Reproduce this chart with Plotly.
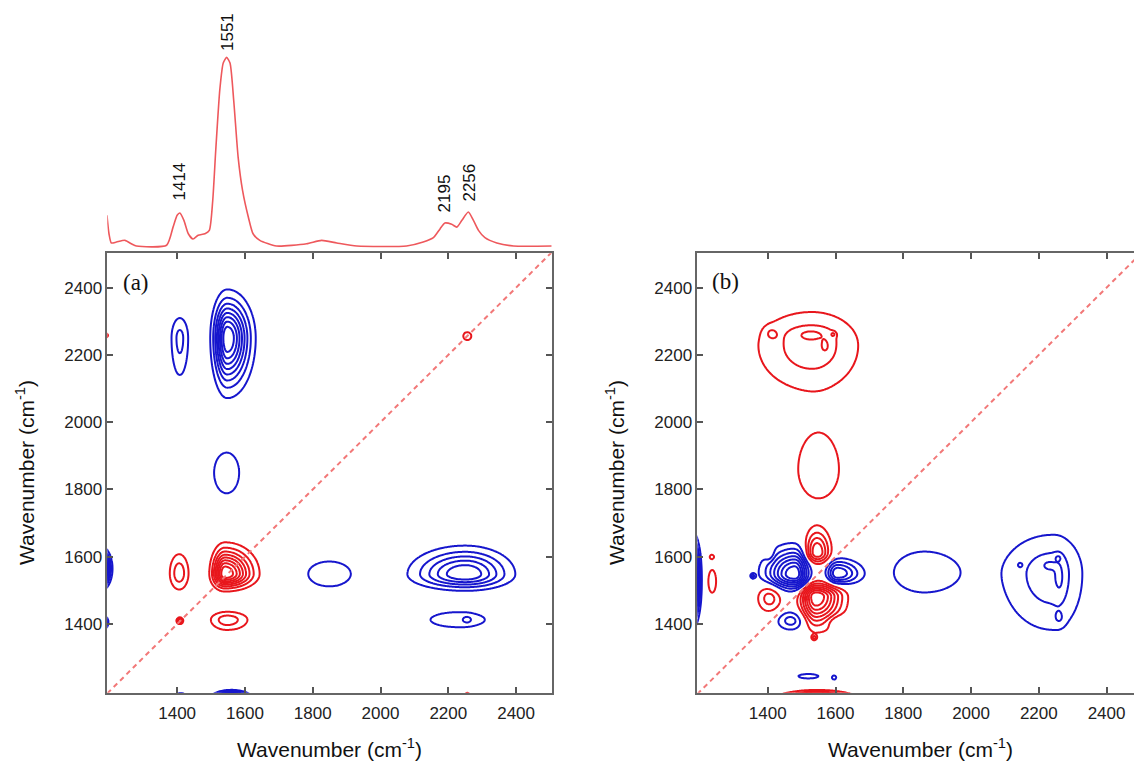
import numpy as np
import plotly.graph_objects as go

W, H = 1134, 761

# ---------------- top spectrum (panel a) ----------------
spec_wn = [1193, 1199, 1206, 1221, 1246, 1265, 1280, 1369, 1388, 1400, 1408, 1420, 1433, 1447,
           1462, 1482, 1495, 1505, 1514, 1526, 1536, 1546, 1556, 1567, 1580, 1593, 1610, 1624,
           1644, 1693, 1782, 1826, 1871, 1930, 2077, 2126, 2156, 2176, 2190, 2210, 2225, 2240,
           2259, 2274, 2289, 2308, 2343, 2392, 2505]
spec_abs = [0.163, 0.065, 0.016, 0.021, 0.030, 0.012, 0.000, 0.004, 0.100, 0.163, 0.175, 0.136,
            0.065, 0.037, 0.057, 0.065, 0.083, 0.240, 0.510, 0.830, 0.970, 1.000, 0.970, 0.770,
            0.470, 0.295, 0.154, 0.065, 0.030, 0.000, 0.012, 0.030, 0.016, 0.000, 0.000, 0.021,
            0.044, 0.092, 0.122, 0.115, 0.100, 0.136, 0.180, 0.136, 0.083, 0.044, 0.016, 0.000,
            0.000]

peak_labels = ["1414", "1551", "2195", "2256"]
peak_label_wn = [1408, 1547, 2188, 2262]
peak_label_val = [0.341, 1.134, 0.280, 0.338]

tick_vals = [1400, 1600, 1800, 2000, 2200, 2400]

# ---------------- (a) synchronous map peaks ----------------
a_cx  = [1541, 1406, 1548, 1408, 2256, 1190, 2256, 1548, 1408, 1546, 1849, 2250, 2230, 2256, 1175, 1180, 1410, 1560]
a_cy  = [1549, 1551, 1413, 1410, 2256, 2258, 1190, 2250, 2250, 1850, 1549, 1548, 1413, 1413, 1565, 1405, 1178, 1175]
a_amp = [9.0, 2.6, 2.6, 4.0, 1.5, 2.0, 2.0, -9.0, -2.3, -1.5, -1.5, -6.0, -1.6, -1.0, -20.0, -10.0, -10.0, -20.0]
a_sxl = [22, 20, 35, 6, 13, 5, 5, 24, 19, 41, 69, 90, 85, 10, 14, 8, 10, 27]
a_sxr = [49, 20, 43, 6, 13, 5, 5, 40, 19, 41, 70, 78, 80, 10, 14, 8, 10, 27]
a_syd = [25, 35, 22, 6, 13, 5, 5, 85, 85, 68, 41, 26, 23, 8, 27, 10, 8, 12]
a_syu = [45, 41, 17, 6, 13, 5, 5, 69, 46, 66, 41, 45, 23, 8, 27, 10, 8, 12]

# ---------------- (b) asynchronous map peaks ----------------
b_cx  = [1530, 1410, 1527, 1570, 1593, 1550,
         1480, 1605, 1545, 1542, 1405, 1405, 1470, 1606, 1356, 1537, 1235, 1236, 1178,
         1862, 2240, 2262, 2230, 2257, 2260, 2144, 1520, 1596, 1545]
b_cy  = [2228, 2264, 2262, 2226, 2261, 1860,
         1548, 1550, 1612, 1482, 1610, 1478, 1410, 1408, 1543, 1360, 1600, 1527, 1530,
         1553, 1549, 1536, 1576, 1596, 1418, 1576, 1245, 1241, 1165]
b_amp = [2.6, 1.0, 0.95, 0.85, 1.3, 1.9,
         -8.0, -5.0, 5.0, 8.0, 1.3, 2.5, -2.5, -1.3, -2.0, 2.0, 1.6, 1.4, -15.0,
         -1.9, -2.6, -0.8, -0.8, -1.3, -0.9, -0.8, -1.4, -1.8, 20.0]
b_sxl = [114, 13, 38, 10, 5, 53,
         53, 20, 23, 28, 10, 25, 30, 25, 5, 5, 5, 14, 12,
         79, 105, 12, 17, 5, 10, 5, 36, 5, 58]
b_sxr = [99, 13, 38, 10, 5, 53,
         25, 43, 25, 47, 10, 25, 30, 25, 5, 5, 5, 14, 12,
         88, 64, 12, 17, 5, 10, 5, 36, 5, 58]
b_syd = [95, 13, 14, 16, 5, 76,
         27, 21, 20, 53, 16, 30, 20, 14, 5, 5, 5, 41, 62,
         52, 120, 46, 12, 5, 14, 5, 8, 5, 16]
b_syu = [72, 13, 14, 16, 5, 92,
         46, 26, 43, 24, 16, 30, 20, 14, 5, 5, 5, 41, 62,
         55, 84, 46, 12, 5, 14, 5, 8, 5, 16]

# axis ranges (wavenumber)
a_xrange = [1194, 2505]
a_yrange = [1196, 2502]
b_xrange = [1192, 2481]
b_yrange = [1196, 2502]

RED = "rgb(232,22,28)"
BLUE = "rgb(22,22,205)"
SPEC = "rgb(238,88,92)"
DIAG = "rgb(242,120,120)"

grid = np.arange(1150, 2531, 3, dtype=float)
GX, GY = np.meshgrid(grid, grid)


def surface(cx, cy, amp, sxl, sxr, syd, syu):
    z = np.zeros_like(GX)
    for i in range(len(cx)):
        dx = GX - cx[i]
        dy = GY - cy[i]
        sx = np.where(dx < 0, sxl[i], sxr[i])
        sy = np.where(dy < 0, syd[i], syu[i])
        z += amp[i] * np.exp(-0.5 * ((dx / sx) ** 2 + (dy / sy) ** 2))
    return z.astype(np.float32)


za = surface(a_cx, a_cy, a_amp, a_sxl, a_sxr, a_syd, a_syu)
zb = surface(b_cx, b_cy, b_amp, b_sxl, b_sxr, b_syd, b_syu)

fig = go.Figure()


def add_map(z, xa, ya, rng):
    fig.add_trace(go.Contour(x=grid, y=grid, z=z, xaxis=xa, yaxis=ya,
                             contours=dict(start=1, end=40, size=1, coloring="none"),
                             line=dict(color=RED, width=2), showscale=False,
                             hoverinfo="skip"))
    fig.add_trace(go.Contour(x=grid, y=grid, z=z, xaxis=xa, yaxis=ya,
                             contours=dict(start=-40, end=-1, size=1, coloring="none"),
                             line=dict(color=BLUE, width=2), showscale=False,
                             hoverinfo="skip"))
    fig.add_trace(go.Scatter(x=[rng[0], 2505], y=[rng[0], 2505], xaxis=xa, yaxis=ya,
                             mode="lines", line=dict(color=DIAG, width=2, dash="5px,4px"),
                             hoverinfo="skip", showlegend=False))


add_map(za, "x", "y", a_xrange)
add_map(zb, "x2", "y2", b_xrange)

fig.add_trace(go.Scatter(x=spec_wn, y=spec_abs, xaxis="x3", yaxis="y3", mode="lines",
                         line=dict(color=SPEC, width=1.6, shape="spline", smoothing=0.6),
                         hoverinfo="skip", showlegend=False))


def px_x(p):
    return p / W


def px_y(p):
    return 1 - p / H


tickfont = dict(family="Liberation Sans, Arial, sans-serif", size=17, color="#222")
ax_common = dict(showgrid=False, zeroline=False, showline=True, linecolor="#666",
                 linewidth=1.5, ticks="inside", ticklen=6, tickwidth=1.5, tickcolor="#555",
                 tickvals=tick_vals, tickfont=tickfont)

dom_y = [px_y(692.7), px_y(253.3)]
fig.update_layout(
    width=W, height=H, margin=dict(l=0, r=0, t=0, b=0),
    paper_bgcolor="white", plot_bgcolor="white", showlegend=False,
    xaxis=dict(ax_common, domain=[px_x(107.3), px_x(551.7)], range=a_xrange, mirror="ticks",
               anchor="y", ticklabelstandoff=4),
    yaxis=dict(ax_common, domain=dom_y, range=a_yrange, mirror="ticks", anchor="x"),
    xaxis2=dict(ax_common, domain=[px_x(697.3), 1.0], range=b_xrange, mirror="ticks",
                anchor="y2", ticklabelstandoff=4),
    yaxis2=dict(ax_common, domain=dom_y, range=b_yrange, mirror=False, anchor="x2"),
    xaxis3=dict(domain=[px_x(107.3), px_x(551.7)], range=a_xrange, visible=False,
                anchor="y3"),
    yaxis3=dict(domain=[px_y(253.3), 1.0], range=[-0.0387, 1.304], visible=False,
                anchor="x3"),
)

ann = []
for t, xw, yv in zip(peak_labels, peak_label_wn, peak_label_val):
    ann.append(dict(text=t, x=xw, y=yv, xref="x3", yref="y3", showarrow=False,
                    textangle=-90, xanchor="center", yanchor="middle",
                    font=dict(family="Liberation Sans, Arial, sans-serif", size=17,
                              color="#111")))

title_font = dict(family="Liberation Sans, Arial, sans-serif", size=21, color="#111")
xt = "Wavenumber (cm<sup>-1</sup>)"
ann += [
    dict(text=xt, x=px_x(329.5), y=px_y(748), xref="paper", yref="paper", showarrow=False,
         xanchor="center", yanchor="middle", font=title_font),
    dict(text=xt, x=px_x(920), y=px_y(748), xref="paper", yref="paper", showarrow=False,
         xanchor="center", yanchor="middle", font=title_font),
    dict(text=xt, x=px_x(25), y=px_y(473), xref="paper", yref="paper", showarrow=False,
         textangle=-90, xanchor="center", yanchor="middle", font=title_font),
    dict(text=xt, x=px_x(615), y=px_y(473), xref="paper", yref="paper", showarrow=False,
         textangle=-90, xanchor="center", yanchor="middle", font=title_font),
    dict(text="(a)", x=px_x(136), y=px_y(282), xref="paper", yref="paper", showarrow=False,
         xanchor="center", yanchor="middle",
         font=dict(family="Liberation Serif, Times New Roman, serif", size=23, color="#111")),
    dict(text="(b)", x=px_x(725), y=px_y(281), xref="paper", yref="paper", showarrow=False,
         xanchor="center", yanchor="middle",
         font=dict(family="Liberation Serif, Times New Roman, serif", size=23, color="#111")),
]
fig.update_layout(annotations=ann)

fig.write_html("out.html")
